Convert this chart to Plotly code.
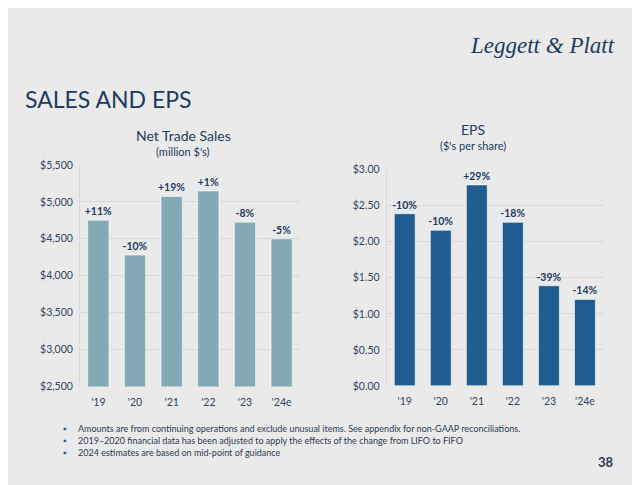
import plotly.graph_objects as go

# ---- data ----
years = ["'19", "'20", "'21", "'22", "'23", "'24e"]
sales = [4752, 4280, 5073, 5147, 4725, 4500]
sales_growth = ["+11%", "-10%", "+19%", "+1%", "-8%", "-5%"]
eps = [2.39, 2.16, 2.79, 2.27, 1.39, 1.20]
eps_growth = ["-10%", "-10%", "+29%", "-18%", "-39%", "-14%"]
sales_ticks = [2500, 3000, 3500, 4000, 4500, 5000, 5500]
sales_ticktext = ["$2,500", "$3,000", "$3,500", "$4,000", "$4,500", "$5,000", "$5,500"]
eps_ticks = [0, 0.5, 1.0, 1.5, 2.0, 2.5, 3.0]
eps_ticktext = ["$0.00", "$0.50", "$1.00", "$1.50", "$2.00", "$2.50", "$3.00"]
footnotes = [
    "Amounts are from continuing operations and exclude unusual items. See appendix for non-GAAP reconciliations.",
    "2019\u20132020 financial data has been adjusted to apply the effects of the change from LIFO to FIFO",
    "2024 estimates are based on mid-point of guidance",
]

W, H = 640, 485
OFF = 8  # page body margin
def px(x):
    return (x - OFF) / W
def py(y):
    return 1 - (y - OFF) / H

NAVY = "#1d3a63"
TICK = "#34445f"
GRID = "#d8d8d8"
FONT = "Lato"

fig = go.Figure()
fig.add_trace(go.Bar(
    x=years, y=sales, text=sales_growth, textposition="outside",
    constraintext="none",
    textfont=dict(size=10.5, color=NAVY, family=FONT), cliponaxis=False,
    marker=dict(color="#85a9b4", line=dict(color="rgba(255,255,255,0.6)", width=1)),
    xaxis="x", yaxis="y", showlegend=False,
    texttemplate="<b>%{text}</b>",
))
fig.add_trace(go.Bar(
    x=years, y=eps, text=eps_growth, textposition="outside",
    constraintext="none",
    textfont=dict(size=10.5, color=NAVY, family=FONT), cliponaxis=False,
    marker=dict(color="#1f5d91", line=dict(color="rgba(255,255,255,0.6)", width=1)),
    xaxis="x2", yaxis="y2", showlegend=False,
    texttemplate="<b>%{text}</b>",
))

xcommon = dict(showgrid=False, zeroline=False, ticks="", fixedrange=True,
               showline=False, ticklabelstandoff=8,
               tickfont=dict(size=10.5, color=TICK))
ycommon = dict(showgrid=True, gridcolor=GRID, gridwidth=1,
               showline=True, linecolor=GRID, linewidth=1,
               zeroline=False, ticks="", fixedrange=True, ticklabelstandoff=4,
               tickfont=dict(size=10.5, color=TICK))
fig.update_layout(
    width=W, height=H, autosize=False,
    margin=dict(l=0, r=0, t=0, b=0),
    paper_bgcolor="#eaeaea", plot_bgcolor="rgba(0,0,0,0)",
    font=dict(family=FONT, color=TICK),
    bargap=0.42,
    xaxis=dict(domain=[px(80), px(300)], anchor="y", **xcommon),
    yaxis=dict(domain=[py(390), py(162.7)], anchor="x", range=[2500, 5500],
               tickvals=sales_ticks, ticktext=sales_ticktext, **ycommon),
    xaxis2=dict(domain=[px(386.7), px(603)], anchor="y2", **xcommon),
    yaxis2=dict(domain=[py(389.3), py(167.7)], anchor="x2", range=[0, 3.0],
                tickvals=eps_ticks, ticktext=eps_ticktext, **ycommon),
)

ann = []
def text(x, y, s, size, color=NAVY, xanchor="center", family=FONT):
    ann.append(dict(x=px(x), y=py(y), xref="paper", yref="paper", text=s,
                    showarrow=False, xanchor=xanchor, yanchor="middle",
                    font=dict(size=size, color=color, family=family)))

text(23, 95, "SALES AND EPS", 23, NAVY, "left")
text(542, 40, "<i>Leggett &amp; Platt</i>", 23, NAVY, "center", "Liberation Serif")
text(183, 133, "Net Trade Sales", 14, NAVY)
text(183, 149, "(million $'s)", 11, NAVY)
text(473, 126, "EPS", 14, NAVY)
text(473, 143, "($'s per share)", 11, NAVY)
for i, f in enumerate(footnotes):
    yy = 433 + i * 12.5
    text(61, yy, "\u25aa", 9, "#1f5d91", "left")
    text(76, yy, f, 9, "#2e3a50", "left")
text(616, 467, "<b>38</b>", 13, "#2e3a50", "right")
fig.update_layout(annotations=ann)

fig.write_html("out.html")
